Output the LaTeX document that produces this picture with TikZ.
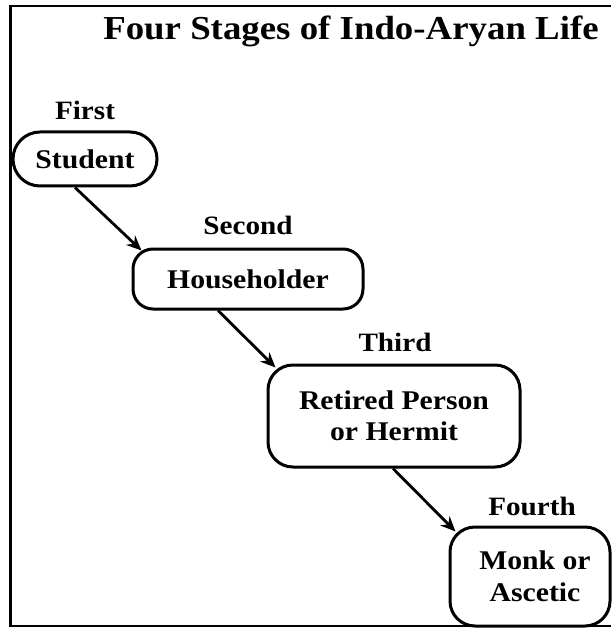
\documentclass[tikz,border=0pt]{standalone}
\usepackage{fontspec}
\setmainfont{Liberation Serif}[FakeStretch=1.1]
\usetikzlibrary{arrows.meta}
\begin{document}
\begin{tikzpicture}[x=1pt,y=-1pt,
  stagebox/.style={draw=black,line width=3pt,rectangle,inner sep=0pt,align=center,
     font=\fontsize{27}{31.5}\selectfont\bfseries},
  ordinal/.style={inner sep=0pt,font=\fontsize{26.5}{30}\selectfont\bfseries},
  arr/.style={line width=2.8pt,-{Stealth[length=15pt,width=13pt]}},
  frameline/.style={line width=2.2pt}]
\useasboundingbox (0,0) rectangle (611,628);
\draw[frameline] (611,6) -- (10.5,6) -- (10.5,626) -- (611,626);
\node[inner sep=0pt,font=\fontsize{33.5}{38}\selectfont\bfseries] (title) at (351,31) {Four Stages of Indo-Aryan Life};
\node[ordinal] (o1) at (85,110) {First};
\node[ordinal] (o2) at (248,225) {Second};
\node[ordinal] (o3) at (395,342) {Third};
\node[ordinal] (o4) at (532,506) {Fourth};
\node[stagebox,minimum width=144pt,minimum height=54pt,rounded corners=27pt] (s1) at (85,159) {Student};
\node[stagebox,minimum width=230pt,minimum height=60pt,rounded corners=20pt] (s2) at (248,279) {Householder};
\node[stagebox,minimum width=252pt,minimum height=102pt,rounded corners=25pt] (s3) at (394,416) {Retired Person\\or Hermit};
\node[stagebox,minimum width=160pt,minimum height=99pt,rounded corners=25pt] (s4) at (530,576.5) {\hspace*{10pt}Monk or\\\hspace*{10pt}Ascetic};
\draw[arr] ([xshift=-10pt]s1.south) -- ([xshift=10pt,yshift=-3pt]s2.north west);
\draw[arr] ([xshift=-30pt]s2.south) -- ([xshift=9pt,yshift=-4pt]s3.north west);
\draw[arr] ([xshift=-1pt]s3.south) -- ([xshift=7pt,yshift=-6pt]s4.north west);
\end{tikzpicture}
\end{document}
